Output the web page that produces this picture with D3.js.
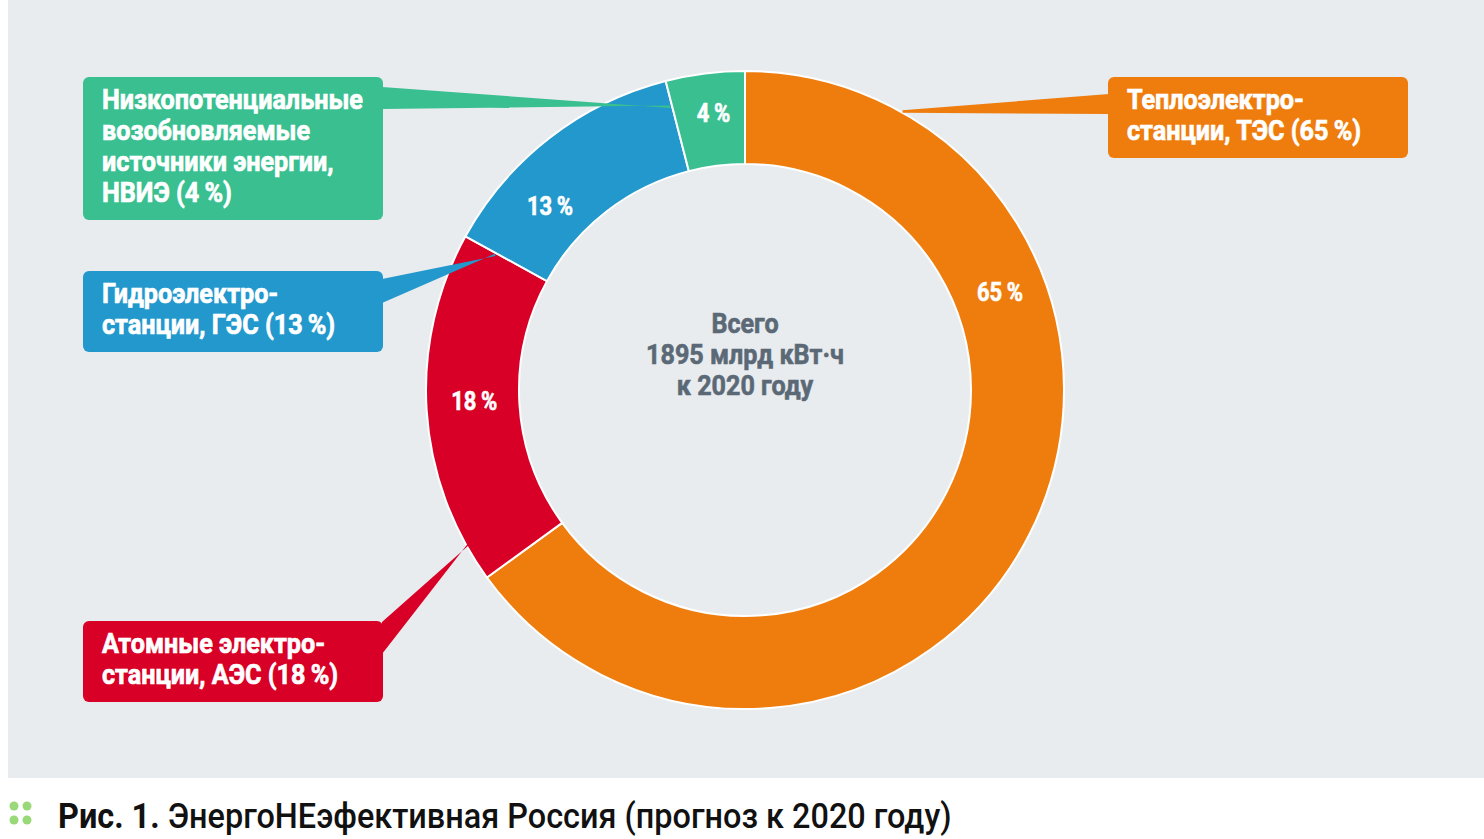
<!DOCTYPE html>
<html><head><meta charset="utf-8">
<script src="https://cdn.jsdelivr.net/npm/d3@7"></script>
<style>
html,body{margin:0;padding:0;background:#fff;}
svg{display:block;}
</style></head><body>
<svg id="chart" width="1484" height="839"></svg>
<script>
// ---- data ----
const categories = ["Теплоэлектростанции, ТЭС", "Атомные электростанции, АЭС", "Гидроэлектростанции, ГЭС", "Низкопотенциальные возобновляемые источники энергии, НВИЭ"];
const shortNames = ["ТЭС", "АЭС", "ГЭС", "НВИЭ"];
const values = [65, 18, 13, 4];
const valueLabels = ["65\u2009%", "18\u2009%", "13\u2009%", "4\u2009%"];
const boxLines = [
  ["Теплоэлектро-", "станции, ТЭС (65\u2009%)"],
  ["Атомные электро-", "станции, АЭС (18\u2009%)"],
  ["Гидроэлектро-", "станции, ГЭС (13\u2009%)"],
  ["Низкопотенциальные", "возобновляемые", "источники энергии,", "НВИЭ (4\u2009%)"]
];
const centerLines = ["Всего", "1895 млрд кВт·ч", "к 2020 году"];
const captionBold = "Рис. 1.";
const captionText = " ЭнергоНЕэфективная Россия (прогноз к 2020 году)";

// ---- styles / layout ----
const colors = ["#ee7d0e", "#d80026", "#2298cc", "#39bf90"];
const W = 1484, H = 839;
const cx = 745, cy = 390, rOuter = 319, rInner = 226;
const font = "Roboto, 'DejaVu Sans', sans-serif";
const heavy = "bold";
const labelPos = [{f: 0.295, r: 273}, {f: 0.52, r: 271}, {f: 0.31, r: 268}, {f: 0.55, r: 279}];
const boxes = [
  {x: 1108, y: 77, w: 300, h: 81},
  {x: 83, y: 621, w: 300, h: 81},
  {x: 83, y: 271, w: 300, h: 81},
  {x: 83, y: 77, w: 300, h: 143}
];
const pointers = [
  {b1: [1109, 94], b2: [1109, 114], tipA: 29.5, tipR: 320},
  {b1: [382, 622], b2: [382, 654], tipA: 241, tipR: 314},
  {b1: [382, 279], b2: [382, 303], tipA: 298.4, tipR: 284},
  {b1: [382, 87], b2: [382, 109], tipA: 345.2, tipR: 293}
];

const svg = d3.select("#chart");
svg.append("rect").attr("x", 8).attr("y", 0).attr("width", W - 8).attr("height", 778).attr("fill", "#e8ecef");

function condenseFactor(str, size, weight, target) {
  const t = svg.append("text").attr("font-family", font).attr("font-size", size)
    .attr("font-weight", weight).text(str);
  const w = t.node().getComputedTextLength();
  t.remove();
  return target / w;
}
function squeeze(sel, x0, s) {
  sel.attr("transform", `translate(${x0},0) scale(${s},1) translate(${-x0},0)`);
}

const pie = d3.pie().sort(null).value(d => d)(values);
const arc = d3.arc().innerRadius(rInner).outerRadius(rOuter);
const g = svg.append("g").attr("transform", `translate(${cx},${cy})`);
g.selectAll("path.slice").data(pie).join("path")
  .attr("class", "slice")
  .attr("d", arc)
  .attr("fill", (d, i) => colors[i])
  .attr("stroke", "#fff").attr("stroke-width", 2).attr("stroke-linejoin", "round");

const polar = (aDeg, r) => {
  const a = aDeg * Math.PI / 180;
  return [cx + r * Math.sin(a), cy - r * Math.cos(a)];
};

pointers.forEach((p, i) => {
  const t = polar(p.tipA, p.tipR);
  const mx = (p.b1[0] + p.b2[0]) / 2, my = (p.b1[1] + p.b2[1]) / 2;
  const dx = t[0] - mx, dy = t[1] - my, L = Math.hypot(dx, dy);
  const nx = -dy / L, ny = dx / L, hw = 1.2;
  const pts = [p.b1, [t[0] + nx * hw, t[1] + ny * hw], [t[0] - nx * hw, t[1] - ny * hw], p.b2];
  svg.append("polygon").attr("points", pts.map(q => q.join(",")).join(" ")).attr("fill", colors[i]);
});

const boxSize = 28;
const sBox = condenseFactor("Низкопотенциальные", boxSize, heavy, 261);
boxes.forEach((b, i) => {
  svg.append("rect").attr("x", b.x).attr("y", b.y).attr("width", b.w).attr("height", b.h)
    .attr("rx", 6).attr("fill", colors[i]);
  const tx = b.x + 19;
  const t = svg.append("text").attr("x", tx).attr("y", b.y + 32)
    .attr("font-family", font).attr("font-weight", heavy).attr("font-size", boxSize)
    .attr("fill", "#fff").attr("stroke", "#fff").attr("stroke-width", 0.7);
  boxLines[i].forEach((ln, j) => {
    t.append("tspan").attr("x", tx).attr("dy", j === 0 ? 0 : 31).text(ln);
  });
  squeeze(t, tx, sBox);
});

const valSize = 25;
const sVal = condenseFactor("65\u2009%", valSize, heavy, 46);
pie.forEach((d, i) => {
  const a = (d.startAngle + (d.endAngle - d.startAngle) * labelPos[i].f) * 180 / Math.PI;
  const p = polar(a, labelPos[i].r);
  const t = svg.append("text").attr("x", p[0]).attr("y", p[1] + 9)
    .attr("text-anchor", "middle").attr("font-family", font).attr("font-weight", heavy)
    .attr("font-size", valSize).attr("fill", "#fff").attr("stroke", "#fff").attr("stroke-width", 0.6)
    .text(valueLabels[i]);
  squeeze(t, p[0], sVal);
});

const cSize = 28;
const sC = condenseFactor("1895 млрд кВт·ч", cSize, heavy, 198);
const ct = svg.append("text").attr("text-anchor", "middle").attr("font-family", font)
  .attr("font-weight", heavy).attr("font-size", cSize).attr("fill", "#5b6976")
  .attr("stroke", "#5b6976").attr("stroke-width", 0.6);
centerLines.forEach((ln, j) => {
  ct.append("tspan").attr("x", cx).attr("y", 333 + j * 31).text(ln);
});
squeeze(ct, cx, sC);

[[14, 806], [27, 806], [14, 820], [27, 820]].forEach(c => {
  svg.append("circle").attr("cx", c[0]).attr("cy", c[1]).attr("r", 4.5).attr("fill", "#9ad97a");
});
const capSize = 36;
const cap = svg.append("text").attr("x", 58).attr("y", 828).attr("font-family", font)
  .attr("font-size", capSize).attr("fill", "#111");
cap.append("tspan").attr("font-weight", "bold").text(captionBold);
cap.append("tspan").attr("font-weight", 500).text(captionText);
const capW = cap.node().getComputedTextLength();
squeeze(cap, 58, 894 / capW);
</script>
</body></html>
